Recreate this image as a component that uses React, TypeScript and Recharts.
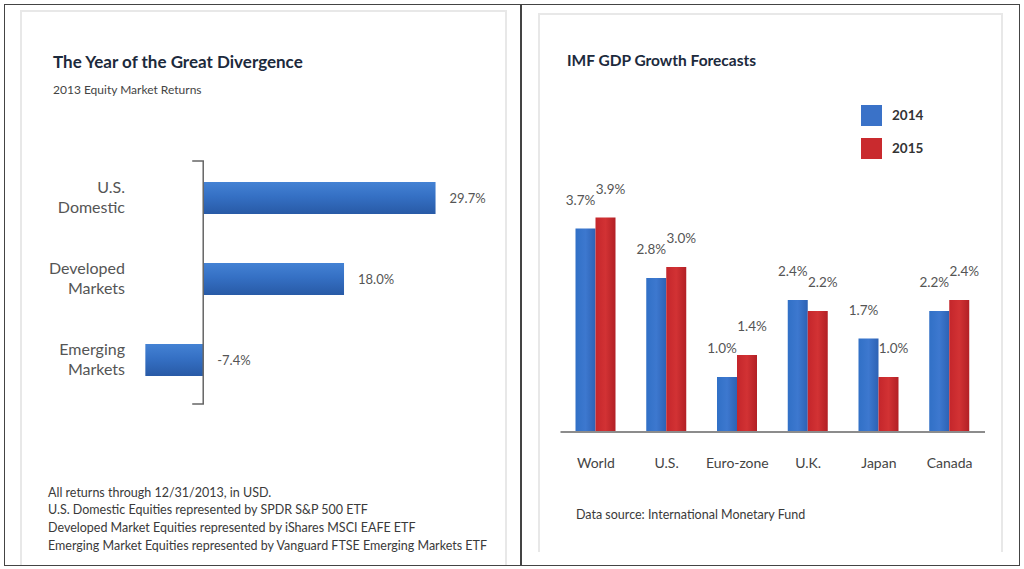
import { Bar, BarChart, LabelList, ReferenceLine, XAxis, YAxis } from 'recharts';

const leftCategories = ['U.S. Domestic', 'Developed Markets', 'Emerging Markets'];
const leftReturns = [29.7, 18.0, -7.4];

const rightCategories = ['World', 'U.S.', 'Euro-zone', 'U.K.', 'Japan', 'Canada'];
const seriesNames = ['2014', '2015'];
const growth2014 = [3.7, 2.8, 1.0, 2.4, 1.7, 2.2];
const growth2015 = [3.9, 3.0, 1.4, 2.2, 1.0, 2.4];
const seriesColors = ['#3a72c8', '#c92a2e'];

const footnotes = [
  'All returns through 12/31/2013, in USD.',
  'U.S. Domestic Equities represented by SPDR S&P 500 ETF',
  'Developed Market Equities represented by iShares MSCI EAFE ETF',
  'Emerging Market Equities represented by Vanguard FTSE Emerging Markets ETF',
];

const FONT = 'Lato, "Open Sans", sans-serif';
const NAVY = '#1c2a3c';
const GRAY = '#555';

const leftData = leftCategories.map((name, i) => ({ name, value: leftReturns[i] }));
const rightData = rightCategories.map((name, i) => ({
  name,
  [seriesNames[0]]: growth2014[i],
  [seriesNames[1]]: growth2015[i],
}));

const pct = (v: number) => `${Number(v).toFixed(1)}%`;

function LeftCategoryTick(props: any) {
  const { x, y, payload } = props;
  const words = String(payload.value).split(' ');
  return (
    <text x={x} y={y} textAnchor="end" fill={GRAY} fontSize={16} fontFamily={FONT}>
      {words.map((w, i) => (
        <tspan key={w} x={x} dy={i === 0 ? -4.5 : 20}>
          {w}
        </tspan>
      ))}
    </text>
  );
}

function LeftValueLabel(props: any) {
  const vb = props.viewBox ?? props;
  const { x, y, width, height } = vb;
  return (
    <text
      x={Math.max(x, x + width) + 14}
      y={y + height / 2}
      dominantBaseline="central"
      fill={GRAY}
      fontSize={13}
      fontFamily={FONT}
    >
      {pct(props.value)}
    </text>
  );
}

// axis drawn as a bracket: vertical line with short ticks pointing left
function Bracket(props: any) {
  const { x1, y1, x2, y2 } = props;
  return (
    <path
      d={`M${x1 - 11},${y1 + 4} L${x1},${y1 + 4} L${x2},${y2 + 4} L${x2 - 11},${y2 + 4}`}
      fill="none"
      stroke="#666"
      strokeWidth={1.5}
    />
  );
}

const box = (left: number, top: number, width: number, height: number) => ({
  position: 'absolute' as const,
  left,
  top,
  width,
  height,
  boxSizing: 'border-box' as const,
  borderTop: '2px solid #e8e8e8',
  borderLeft: '2px solid #e8e8e8',
  borderRight: '2px solid #e8e8e8',
});

const textAt = (left: number, centerY: number, size: number, extra: object = {}) => ({
  position: 'absolute' as const,
  left,
  top: centerY - size / 2,
  fontSize: size,
  lineHeight: `${size}px`,
  fontFamily: FONT,
  whiteSpace: 'nowrap' as const,
  color: '#333',
  ...extra,
});

export default function App() {
  return (
    <div style={{ position: 'absolute', left: 0, top: 0, width: 1024, height: 569, background: '#fff', overflow: 'hidden' }}>
      <div style={box(20, 10, 487, 556)} />
      <div style={box(538, 13, 465, 539)} />
      <div
        style={{
          position: 'absolute',
          left: 4,
          top: 4,
          width: 1016,
          height: 562,
          border: '1.5px solid #444',
          boxSizing: 'border-box',
        }}
      />
      <div style={{ position: 'absolute', left: 520, top: 4, width: 1.5, height: 562, background: '#444' }} />

      <div style={textAt(53, 61, 17, { fontWeight: 700, color: NAVY })}>The Year of the Great Divergence</div>
      <div style={textAt(53, 90, 12, { color: '#444' })}>2013 Equity Market Returns</div>
      {footnotes.map((line, i) => (
        <div key={line} style={textAt(48, 493 + i * 17.6, 12.5, { color: '#3a3a3a' })}>
          {line}
        </div>
      ))}

      <div style={{ position: 'absolute', left: 0, top: 0 }}>
        <BarChart
          width={520}
          height={569}
          layout="vertical"
          data={leftData}
          margin={{ top: 157, right: 43, bottom: 169, left: 45 }}
        >
          <defs>
            <linearGradient id="leftBlue" x1="0" y1="0" x2="0" y2="1">
              <stop offset="0%" stopColor="#4482d4" />
              <stop offset="45%" stopColor="#3570c4" />
              <stop offset="100%" stopColor="#285aa6" />
            </linearGradient>
          </defs>
          <XAxis type="number" domain={[-10, 35]} hide />
          <YAxis
            type="category"
            dataKey="name"
            width={80}
            axisLine={false}
            tickLine={false}
            tickSize={0}
            tickMargin={0}
            interval={0}
            tick={<LeftCategoryTick />}
          />
          <Bar dataKey="value" barSize={32} fill="url(#leftBlue)" isAnimationActive={false}>
            <LabelList dataKey="value" content={<LeftValueLabel />} />
          </Bar>
          <ReferenceLine x={0} stroke="#666" shape={Bracket} />
        </BarChart>
      </div>

      <div style={textAt(567, 61, 15.5, { fontWeight: 700, color: NAVY })}>IMF GDP Growth Forecasts</div>
      {seriesNames.map((name, i) => (
        <div key={name}>
          <div
            style={{
              position: 'absolute',
              left: 861,
              top: 105 + i * 32.5,
              width: 21,
              height: 21,
              background: seriesColors[i],
            }}
          />
          <div style={textAt(892, 116 + i * 32.5, 13.5, { fontWeight: 700, color: '#333' })}>{name}</div>
        </div>
      ))}
      <div style={textAt(576, 515, 12.5, { color: '#3a3a3a' })}>Data source: International Monetary Fund</div>

      <div style={{ position: 'absolute', left: 520, top: 0 }}>
        <BarChart
          width={504}
          height={569}
          data={rightData}
          barGap={0}
          margin={{ top: 157, right: 39, bottom: 107, left: 40.5 }}
        >
          <defs>
            <linearGradient id="rBlue" x1="0" y1="0" x2="1" y2="0">
              <stop offset="0%" stopColor="#3170c6" />
              <stop offset="50%" stopColor="#3d78cf" />
              <stop offset="100%" stopColor="#2d62b4" />
            </linearGradient>
            <linearGradient id="rRed" x1="0" y1="0" x2="1" y2="0">
              <stop offset="0%" stopColor="#c4262b" />
              <stop offset="50%" stopColor="#d23234" />
              <stop offset="100%" stopColor="#b22025" />
            </linearGradient>
          </defs>
          <XAxis
            dataKey="name"
            height={30}
            axisLine={{ stroke: '#8c8c8c', strokeWidth: 2 }}
            tickLine={false}
            tickSize={0}
            tickMargin={26}
            interval={0}
            tick={{ fill: '#444', fontSize: 14, fontFamily: FONT }}
          />
          <YAxis hide domain={[0, 5]} />
          <Bar dataKey={seriesNames[0]} barSize={20} fill="url(#rBlue)" isAnimationActive={false}>
            <LabelList
              dataKey={seriesNames[0]}
              position="top"
              offset={24}
              dx={-5}
              formatter={(v: any) => pct(v)}
              fill={GRAY}
              fontSize={13.5}
              fontFamily={FONT}
            />
          </Bar>
          <Bar dataKey={seriesNames[1]} barSize={20} fill="url(#rRed)" isAnimationActive={false}>
            <LabelList
              dataKey={seriesNames[1]}
              position="top"
              offset={24}
              dx={5}
              formatter={(v: any) => pct(v)}
              fill={GRAY}
              fontSize={13.5}
              fontFamily={FONT}
            />
          </Bar>
        </BarChart>
      </div>
    </div>
  );
}
